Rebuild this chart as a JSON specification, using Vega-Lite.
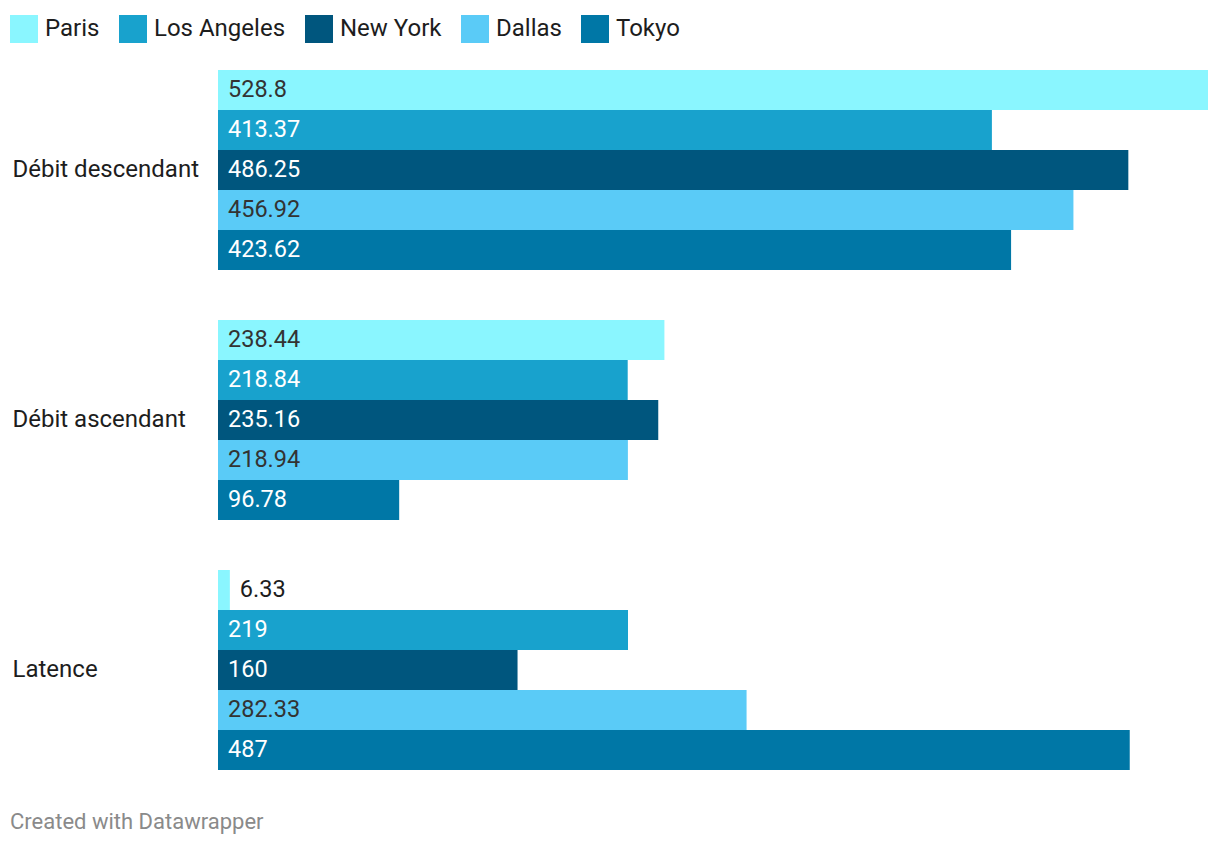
{
  "$schema": "https://vega.github.io/schema/vega-lite/v6.json",
  "width": 990,
  "height": 700,
  "autosize": "none",
  "padding": {"left": 218, "top": 70, "right": 12, "bottom": 76},
  "background": "white",
  "config": {"view": {"stroke": null}, "font": "Roboto"},
  "title": {
    "text": "Created with Datawrapper",
    "orient": "bottom",
    "anchor": "start",
    "frame": "bounds",
    "fontSize": 22,
    "fontWeight": "normal",
    "color": "#8a8a8a",
    "font": "Roboto",
    "offset": 42
  },
  "data": {
    "values": [
      {"metric": "Débit descendant", "city": "Paris", "value": 528.8},
      {"metric": "Débit descendant", "city": "Los Angeles", "value": 413.37},
      {"metric": "Débit descendant", "city": "New York", "value": 486.25},
      {"metric": "Débit descendant", "city": "Dallas", "value": 456.92},
      {"metric": "Débit descendant", "city": "Tokyo", "value": 423.62},
      {"metric": "Débit ascendant", "city": "Paris", "value": 238.44},
      {"metric": "Débit ascendant", "city": "Los Angeles", "value": 218.84},
      {"metric": "Débit ascendant", "city": "New York", "value": 235.16},
      {"metric": "Débit ascendant", "city": "Dallas", "value": 218.94},
      {"metric": "Débit ascendant", "city": "Tokyo", "value": 96.78},
      {"metric": "Latence", "city": "Paris", "value": 6.33},
      {"metric": "Latence", "city": "Los Angeles", "value": 219},
      {"metric": "Latence", "city": "New York", "value": 160},
      {"metric": "Latence", "city": "Dallas", "value": 282.33},
      {"metric": "Latence", "city": "Tokyo", "value": 487}
    ]
  },
  "encoding": {
    "y": {
      "field": "metric",
      "type": "nominal",
      "sort": ["Débit descendant", "Débit ascendant", "Latence"],
      "scale": {"paddingInner": 0.2, "paddingOuter": 0},
      "title": null,
      "axis": {
        "domain": false,
        "ticks": false,
        "tickSize": 0,
        "labelAlign": "left",
        "labelPadding": 206,
        "labelFontSize": 24,
        "labelColor": "#1d1d1d",
        "labelFont": "Roboto",
        "labelLimit": 300
      }
    },
    "yOffset": {
      "field": "city",
      "type": "nominal",
      "sort": ["Paris", "Los Angeles", "New York", "Dallas", "Tokyo"],
      "scale": {"paddingInner": 0, "paddingOuter": 0}
    }
  },
  "layer": [
    {
      "mark": {"type": "bar"},
      "encoding": {
        "x": {
          "field": "value",
          "type": "quantitative",
          "scale": {"domain": [0, 528.8], "nice": false, "zero": true},
          "axis": null
        },
        "color": {
          "field": "city",
          "type": "nominal",
          "sort": ["Paris", "Los Angeles", "New York", "Dallas", "Tokyo"],
          "scale": {
            "domain": ["Paris", "Los Angeles", "New York", "Dallas", "Tokyo"],
            "range": ["#8af6ff", "#18a2cd", "#00567e", "#5acbf7", "#0077a6"]
          },
          "legend": {
            "orient": "none",
            "legendX": -208,
            "legendY": -55,
            "direction": "horizontal",
            "title": null,
            "symbolType": "square",
            "symbolSize": 784,
            "symbolStrokeWidth": 0,
            "symbolOpacity": 1,
            "labelFontSize": 24,
            "labelFont": "Roboto",
            "labelColor": "#1d1d1d",
            "labelOffset": 7,
            "columnPadding": 19,
            "padding": 0,
            "labelLimit": 300
          }
        }
      }
    },
    {
      "transform": [{"filter": "datum.value >= 30"}],
      "mark": {"type": "text", "align": "left", "baseline": "middle", "dx": 10, "fontSize": 23.5, "font": "Roboto"},
      "encoding": {
        "x": {"datum": 0, "type": "quantitative"},
        "text": {"field": "value", "type": "nominal"},
        "color": {
          "condition": {"test": "datum.city === 'Paris' || datum.city === 'Dallas'", "value": "#333333"},
          "value": "#ffffff"
        }
      }
    },
    {
      "transform": [{"filter": "datum.value < 30"}],
      "mark": {"type": "text", "align": "left", "baseline": "middle", "dx": 10, "fontSize": 23.5, "font": "Roboto", "color": "#1d1d1d"},
      "encoding": {
        "x": {"field": "value", "type": "quantitative"},
        "text": {"field": "value", "type": "nominal"}
      }
    }
  ]
}
